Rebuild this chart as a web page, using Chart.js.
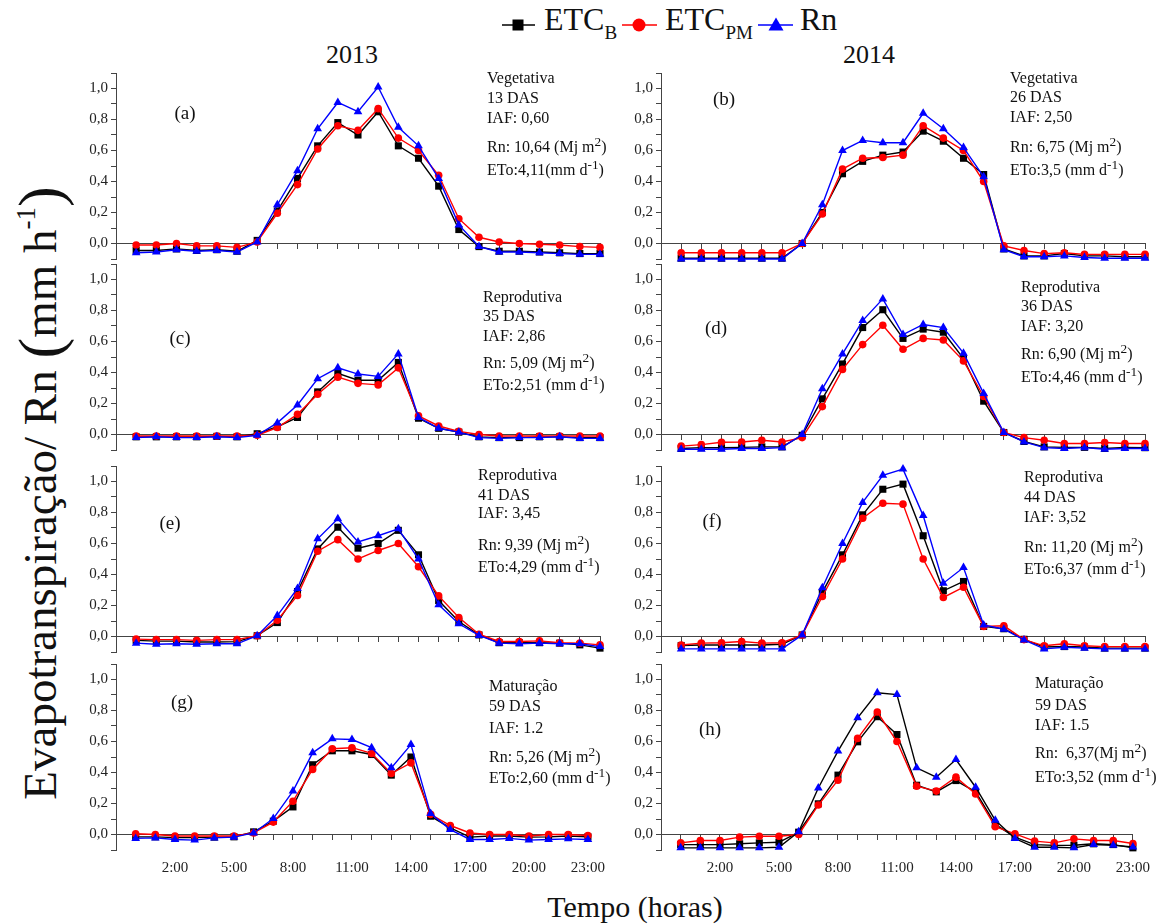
<!DOCTYPE html>
<html>
<head>
<meta charset="utf-8">
<script src="https://cdn.jsdelivr.net/npm/chart.js@4"></script>
<style>
body { margin: 0; background: #fff; }
#page { position: relative; width: 1172px; height: 924px; overflow: hidden;
        font-family: 'Liberation Serif', 'Times New Roman', serif; color: #111; }
#page canvas { position: absolute; }
.t { position: absolute; white-space: nowrap; line-height: 1; transform: translateY(-50%); }
.note { font-size: 16px; }
.tag { font-size: 19px; transform: translate(-50%, -50%); }
.year { font-size: 26px; transform: translate(-50%, -50%); }
.leg { position: absolute; top: 3px; font-size: 32px; line-height: 1; white-space: nowrap; }
.leg sub { font-size: 19px; vertical-align: -9px; }
#ytitle { position: absolute; left: 40px; top: 493px; font-size: 47px; white-space: nowrap; line-height: 1;
          transform: translate(-50%, -50%) rotate(-90deg); }
#ytitle .par { font-size: 62px; vertical-align: -5px; }
#ytitle sup { font-size: 27px; vertical-align: 21px; }
#xtitle { position: absolute; left: 635px; top: 907px; font-size: 30px; white-space: nowrap;
          line-height: 1; transform: translate(-50%, -50%); }
</style>
</head>
<body>
<div id="page">
  <svg style="position:absolute;left:0;top:0" width="820" height="50">
    <line x1="502" y1="25" x2="535" y2="25" stroke="#000" stroke-width="1.5"/>
    <rect x="512.5" y="19.5" width="11" height="11" fill="#000"/>
    <line x1="622" y1="25" x2="657" y2="25" stroke="#f00" stroke-width="1.5"/>
    <circle cx="639" cy="25" r="6.5" fill="#f00"/>
    <line x1="758" y1="25" x2="793" y2="25" stroke="#00f" stroke-width="1.5"/>
    <polygon points="776,17.5 783.5,30.5 768.5,30.5" fill="#00f"/>
  </svg>
  <div class="leg" style="left:544px">ETC<sub>B</sub></div>
  <div class="leg" style="left:665px">ETC<sub>PM</sub></div>
  <div class="leg" style="left:800px">Rn</div>

  <div class="t year" style="left:352px;top:55px">2013</div>
  <div class="t year" style="left:869px;top:55px">2014</div>

  <div id="ytitle">Evapotranspiração/ Rn <span class="par">(</span>mm h<sup>-1</sup><span class="par">)</span></div>
  <div id="xtitle">Tempo (horas)</div>
</div>

<script>
// hours of the day (x values)
const hours = [0, 1, 2, 3, 4, 5, 6, 7, 8, 9, 10, 11, 12, 13, 14, 15, 16, 17, 18, 19, 20, 21, 22, 23];

// (a) 2013 - Vegetativa 13 DAS
const etcB_a  = [-0.045, -0.045, -0.035, -0.045, -0.04, -0.05, 0.02, 0.21, 0.42, 0.63, 0.78, 0.70, 0.85, 0.63, 0.55, 0.37, 0.09, -0.02, -0.05, -0.05, -0.055, -0.06, -0.065, -0.065];
const etcPM_a = [-0.01, -0.01, 0.0, -0.015, -0.015, -0.025, 0.01, 0.195, 0.38, 0.61, 0.76, 0.73, 0.87, 0.68, 0.60, 0.44, 0.16, 0.04, 0.01, 0.0, -0.005, -0.01, -0.02, -0.025];
const rn_a    = [-0.06, -0.055, -0.04, -0.05, -0.045, -0.055, 0.01, 0.25, 0.47, 0.74, 0.91, 0.85, 1.01, 0.75, 0.63, 0.42, 0.12, -0.02, -0.055, -0.055, -0.06, -0.065, -0.07, -0.07];

// (b) 2014 - Vegetativa 26 DAS
const etcB_b  = [-0.095, -0.095, -0.095, -0.095, -0.095, -0.095, 0.0, 0.20, 0.45, 0.53, 0.57, 0.59, 0.725, 0.66, 0.55, 0.445, -0.035, -0.08, -0.08, -0.065, -0.08, -0.08, -0.085, -0.085];
const etcPM_b = [-0.06, -0.06, -0.06, -0.06, -0.06, -0.06, 0.0, 0.19, 0.48, 0.55, 0.555, 0.57, 0.76, 0.68, 0.60, 0.40, -0.015, -0.045, -0.065, -0.06, -0.07, -0.07, -0.07, -0.07];
const rn_b    = [-0.1, -0.1, -0.1, -0.1, -0.1, -0.1, 0.0, 0.25, 0.60, 0.665, 0.65, 0.65, 0.84, 0.74, 0.62, 0.43, -0.04, -0.085, -0.085, -0.08, -0.09, -0.095, -0.095, -0.095];

// (c) 2013 - Reprodutiva 35 DAS
const etcB_c  = [-0.015, -0.015, -0.015, -0.015, -0.012, -0.015, 0.005, 0.05, 0.11, 0.275, 0.395, 0.35, 0.35, 0.465, 0.105, 0.04, 0.015, -0.015, -0.02, -0.02, -0.015, -0.015, -0.02, -0.02];
const etcPM_c = [-0.01, -0.01, -0.01, -0.01, -0.01, -0.01, -0.005, 0.045, 0.13, 0.26, 0.37, 0.33, 0.32, 0.43, 0.12, 0.055, 0.02, 0.0, -0.01, -0.01, -0.01, -0.01, -0.01, -0.01];
const rn_c    = [-0.02, -0.015, -0.02, -0.02, -0.015, -0.02, -0.005, 0.075, 0.19, 0.36, 0.43, 0.39, 0.375, 0.52, 0.11, 0.04, 0.015, -0.02, -0.025, -0.02, -0.02, -0.015, -0.025, -0.025];

// (d) 2014 - Reprodutiva 36 DAS
const etcB_d  = [-0.09, -0.085, -0.085, -0.083, -0.08, -0.08, -0.005, 0.23, 0.455, 0.69, 0.805, 0.62, 0.68, 0.66, 0.49, 0.215, 0.013, -0.045, -0.08, -0.083, -0.083, -0.09, -0.083, -0.085];
const etcPM_d = [-0.075, -0.065, -0.05, -0.048, -0.037, -0.048, -0.02, 0.18, 0.42, 0.58, 0.705, 0.55, 0.62, 0.61, 0.475, 0.245, 0.013, -0.02, -0.037, -0.058, -0.058, -0.052, -0.058, -0.058];
const rn_d    = [-0.095, -0.095, -0.095, -0.09, -0.09, -0.085, 0.0, 0.295, 0.52, 0.735, 0.875, 0.645, 0.71, 0.69, 0.525, 0.265, 0.013, -0.048, -0.085, -0.09, -0.085, -0.095, -0.09, -0.09];

// (e) 2013 - Reprodutiva 41 DAS
const etcB_e  = [-0.025, -0.03, -0.03, -0.035, -0.035, -0.033, 0.005, 0.09, 0.29, 0.565, 0.705, 0.57, 0.60, 0.685, 0.527, 0.232, 0.097, 0.01, -0.04, -0.04, -0.04, -0.043, -0.054, -0.075];
const etcPM_e = [-0.017, -0.02, -0.02, -0.025, -0.02, -0.02, 0.005, 0.105, 0.265, 0.55, 0.625, 0.50, 0.555, 0.60, 0.45, 0.262, 0.123, 0.015, -0.032, -0.032, -0.028, -0.04, -0.043, -0.054];
const rn_e    = [-0.043, -0.05, -0.047, -0.05, -0.047, -0.047, 0.005, 0.135, 0.31, 0.63, 0.76, 0.61, 0.65, 0.695, 0.50, 0.205, 0.082, 0.007, -0.043, -0.047, -0.043, -0.047, -0.047, -0.065];

// (f) 2014 - Reprodutiva 44 DAS
const etcB_f  = [-0.058, -0.055, -0.055, -0.055, -0.055, -0.05, 0.01, 0.285, 0.527, 0.785, 0.95, 0.983, 0.65, 0.295, 0.355, 0.065, 0.05, -0.018, -0.068, -0.065, -0.068, -0.075, -0.075, -0.075];
const etcPM_f = [-0.055, -0.043, -0.04, -0.032, -0.043, -0.04, 0.01, 0.258, 0.50, 0.763, 0.86, 0.854, 0.50, 0.252, 0.318, 0.065, 0.069, -0.02, -0.06, -0.047, -0.06, -0.065, -0.065, -0.065];
const rn_f    = [-0.08, -0.08, -0.08, -0.08, -0.08, -0.08, 0.01, 0.315, 0.60, 0.865, 1.04, 1.08, 0.78, 0.344, 0.445, 0.075, 0.047, -0.022, -0.08, -0.069, -0.075, -0.08, -0.08, -0.08];

// (g) 2013 - Maturação 59 DAS
const etcB_g  = [-0.015, -0.015, -0.02, -0.02, -0.017, -0.015, 0.017, 0.086, 0.178, 0.45, 0.54, 0.54, 0.516, 0.383, 0.50, 0.118, 0.043, -0.017, -0.01, -0.01, -0.017, -0.015, -0.01, -0.015];
const etcPM_g = [0.005, 0.0, -0.01, -0.01, -0.01, -0.01, 0.01, 0.08, 0.215, 0.42, 0.553, 0.56, 0.523, 0.394, 0.462, 0.13, 0.058, 0.01, 0.0, 0.0, -0.01, 0.0, 0.0, -0.006];
const rn_g    = [-0.025, -0.022, -0.032, -0.036, -0.022, -0.017, 0.01, 0.103, 0.28, 0.527, 0.617, 0.613, 0.56, 0.43, 0.58, 0.135, 0.032, -0.032, -0.032, -0.025, -0.036, -0.032, -0.028, -0.032];

// (h) 2014 - Maturação 59 DAS
const etcB_h  = [-0.065, -0.065, -0.065, -0.06, -0.054, -0.05, 0.015, 0.198, 0.383, 0.598, 0.76, 0.645, 0.318, 0.275, 0.348, 0.275, 0.065, -0.017, -0.065, -0.07, -0.069, -0.06, -0.065, -0.086];
const etcPM_h = [-0.054, -0.039, -0.039, -0.017, -0.011, -0.011, 0.0, 0.19, 0.35, 0.62, 0.79, 0.60, 0.312, 0.28, 0.37, 0.262, 0.05, 0.004, -0.043, -0.054, -0.028, -0.039, -0.039, -0.058];
const rn_h    = [-0.086, -0.086, -0.086, -0.086, -0.086, -0.082, 0.017, 0.30, 0.538, 0.753, 0.914, 0.903, 0.43, 0.37, 0.484, 0.305, 0.092, -0.026, -0.082, -0.082, -0.086, -0.065, -0.069, -0.08];

// text beside each panel
const notes = {
    a: ['Vegetativa', '13 DAS', 'IAF: 0,60', 'Rn: 10,64 (Mj m<sup>2</sup>)', 'ETo:4,11(mm d<sup>-1</sup>)'],
    b: ['Vegetativa', '26 DAS', 'IAF: 2,50', 'Rn: 6,75 (Mj m<sup>2</sup>)', 'ETo:3,5 (mm d<sup>-1</sup>)'],
    c: ['Reprodutiva', '35 DAS', 'IAF: 2,86', 'Rn: 5,09 (Mj m<sup>2</sup>)', 'ETo:2,51 (mm d<sup>-1</sup>)'],
    d: ['Reprodutiva', '36 DAS', 'IAF: 3,20', 'Rn: 6,90 (Mj m<sup>2</sup>)', 'ETo:4,46 (mm d<sup>-1</sup>)'],
    e: ['Reprodutiva', '41 DAS', 'IAF: 3,45', 'Rn: 9,39 (Mj m<sup>2</sup>)', 'ETo:4,29 (mm d<sup>-1</sup>)'],
    f: ['Reprodutiva', '44 DAS', 'IAF: 3,52', 'Rn: 11,20 (Mj m<sup>2</sup>)', 'ETo:6,37 (mm d<sup>-1</sup>)'],
    g: ['Maturação', '59 DAS', 'IAF: 1.2', 'Rn: 5,26 (Mj m<sup>2</sup>)', 'ETo:2,60 (mm d<sup>-1</sup>)'],
    h: ['Maturação', '59 DAS', 'IAF: 1.5', 'Rn:&nbsp; 6,37(Mj m<sup>2</sup>)', 'ETo:3,52 (mm d<sup>-1</sup>)']
};

const LEFT_COL = { left: 116, right: 600 };
const RIGHT_COL = { left: 661, right: 1145 };
const ROW_TOPS = [73, 264, 466, 664];
const PLOT_H = 186;

const panels = [
    { id: 'a', col: LEFT_COL,  row: 0, etcB: etcB_a, etcPM: etcPM_a, rn: rn_a, tag: [185, 112], noteX: 487, noteY: [78, 98, 118, 145, 168] },
    { id: 'b', col: RIGHT_COL, row: 0, etcB: etcB_b, etcPM: etcPM_b, rn: rn_b, tag: [724, 98],  noteX: 1010, noteY: [78, 97, 117, 145, 168] },
    { id: 'c', col: LEFT_COL,  row: 1, etcB: etcB_c, etcPM: etcPM_c, rn: rn_c, tag: [180, 337], noteX: 483, noteY: [297, 316, 336, 361, 383] },
    { id: 'd', col: RIGHT_COL, row: 1, etcB: etcB_d, etcPM: etcPM_d, rn: rn_d, tag: [716, 327], noteX: 1021, noteY: [287, 306, 326, 352, 375] },
    { id: 'e', col: LEFT_COL,  row: 2, etcB: etcB_e, etcPM: etcPM_e, rn: rn_e, tag: [170, 522], noteX: 478, noteY: [475, 495, 513, 543, 565] },
    { id: 'f', col: RIGHT_COL, row: 2, etcB: etcB_f, etcPM: etcPM_f, rn: rn_f, tag: [712, 520], noteX: 1024, noteY: [477, 497, 517, 545, 567] },
    { id: 'g', col: LEFT_COL,  row: 3, etcB: etcB_g, etcPM: etcPM_g, rn: rn_g, tag: [182, 701], noteX: 489, noteY: [686, 706, 728, 755, 776] },
    { id: 'h', col: RIGHT_COL, row: 3, etcB: etcB_h, etcPM: etcPM_h, rn: rn_h, tag: [710, 728], noteX: 1035, noteY: [683, 705, 725, 751, 775], rnLine: '#000' }
];

Chart.defaults.font.family = '"Liberation Serif", "Times New Roman", serif';
Chart.defaults.color = '#222';

const page = document.getElementById('page');

function addText(cls, x, y, html) {
    const el = document.createElement('div');
    el.className = 't ' + cls;
    el.style.left = x + 'px';
    el.style.top = y + 'px';
    el.innerHTML = html;
    page.appendChild(el);
}

function series(values) {
    return hours.map((h, i) => ({ x: h, y: values[i] }));
}

function makePanel(p) {
    const padL = 60, padT = 12, padR = 25, padB = 45;
    const top = ROW_TOPS[p.row];
    const w = p.col.right - p.col.left;
    const bottomRow = p.row === 3;

    const canvas = document.createElement('canvas');
    canvas.width = w + padL + padR;
    canvas.height = PLOT_H + padT + padB;
    canvas.style.left = (p.col.left - padL) + 'px';
    canvas.style.top = (top - padT) + 'px';
    page.appendChild(canvas);

    new Chart(canvas, {
        type: 'line',
        data: {
            datasets: [
                { data: series(p.etcB), borderColor: '#000', backgroundColor: '#000', pointStyle: 'rect', pointRadius: 5, order: 3 },
                { data: series(p.etcPM), borderColor: '#ff0000', backgroundColor: '#ff0000', pointStyle: 'circle', pointRadius: 3.8, order: 2 },
                { data: series(p.rn), borderColor: p.rnLine || '#0000ff', backgroundColor: '#0000ff', pointStyle: 'triangle', pointRadius: 5, order: 1 }
            ]
        },
        options: {
            responsive: false,
            animation: false,
            events: [],
            clip: false,
            datasets: { line: { borderWidth: 1.4, pointBorderWidth: 0, tension: 0 } },
            layout: { padding: { left: 0, top: padT, right: padR, bottom: padB } },
            plugins: { legend: { display: false }, tooltip: { enabled: false } },
            scales: {
                x: {
                    type: 'linear',
                    min: -1,
                    max: 23,
                    position: { y: 0 },
                    grid: { drawOnChartArea: false, tickLength: 5, color: '#444' },
                    border: { color: '#444', width: 1 },
                    ticks: {
                        stepSize: 1,
                        autoSkip: false,
                        maxRotation: 0,
                        padding: 20,
                        font: { size: 15 },
                        callback: v => (bottomRow && v >= 2 && (v - 2) % 3 === 0) ? v + ':00' : ''
                    }
                },
                y: {
                    min: -0.1,
                    max: 1.1,
                    afterFit: s => { s.width = padL; },
                    grid: { drawOnChartArea: false, tickLength: 5, color: '#444' },
                    border: { color: '#444', width: 1 },
                    ticks: {
                        stepSize: 0.1,
                        autoSkip: false,
                        padding: 3,
                        font: { size: 15 },
                        callback: v => {
                            const k = Math.round(v * 10);
                            return (k >= 0 && k <= 10 && k % 2 === 0) ? (k / 10).toFixed(1).replace('.', ',') : '';
                        }
                    }
                }
            }
        }
    });

    addText('tag', p.tag[0], p.tag[1], '(' + p.id + ')');
    notes[p.id].forEach((line, i) => addText('note', p.noteX, p.noteY[i], line));
}

panels.forEach(makePanel);
</script>
</body>
</html>
